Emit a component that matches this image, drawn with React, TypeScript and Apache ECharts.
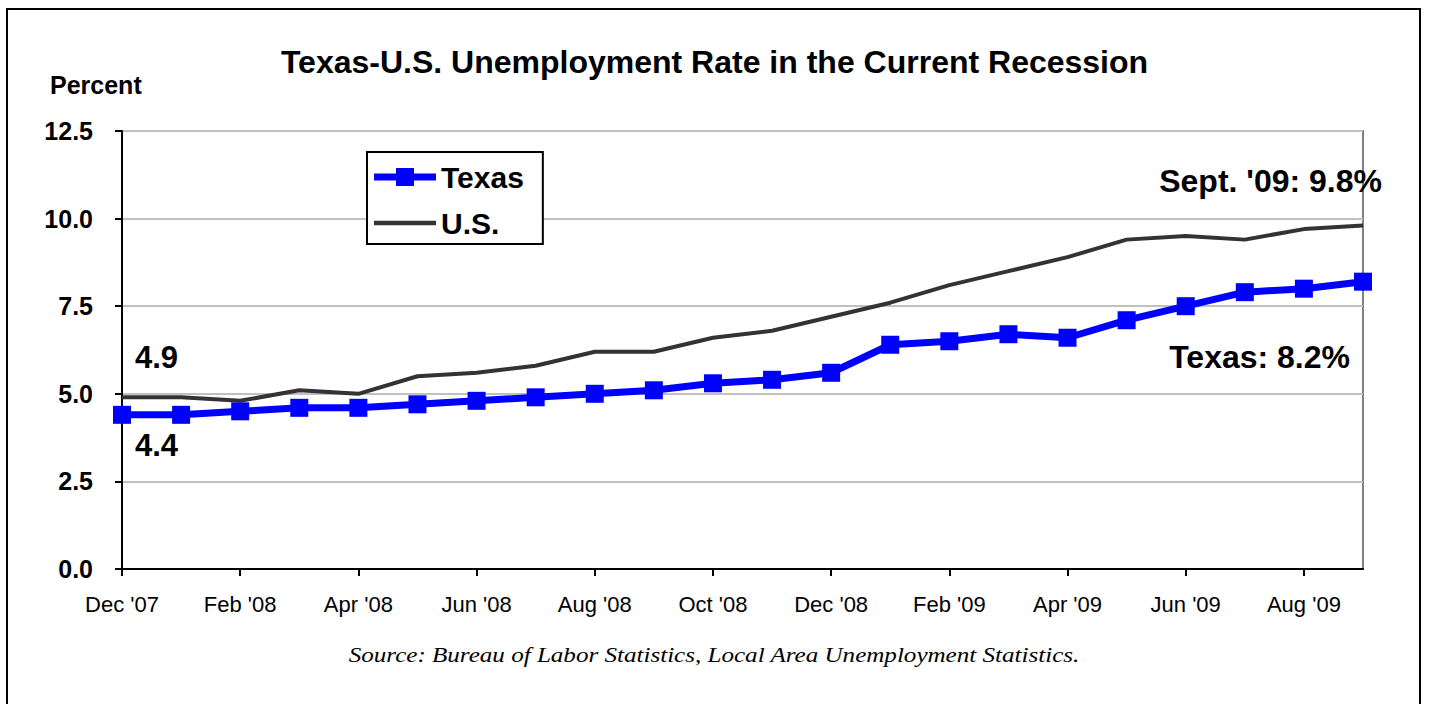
import React, { useEffect, useRef } from "react";
import * as echarts from "echarts";

const months = [
  "Dec '07", "Jan '08", "Feb '08", "Mar '08", "Apr '08", "May '08", "Jun '08", "Jul '08",
  "Aug '08", "Sep '08", "Oct '08", "Nov '08", "Dec '08", "Jan '09", "Feb '09", "Mar '09",
  "Apr '09", "May '09", "Jun '09", "Jul '09", "Aug '09", "Sep '09",
];
const texas = [4.4, 4.4, 4.5, 4.6, 4.6, 4.7, 4.8, 4.9, 5.0, 5.1, 5.3, 5.4, 5.6, 6.4, 6.5, 6.7, 6.6, 7.1, 7.5, 7.9, 8.0, 8.2];
const us = [4.9, 4.9, 4.8, 5.1, 5.0, 5.5, 5.6, 5.8, 6.2, 6.2, 6.6, 6.8, 7.2, 7.6, 8.1, 8.5, 8.9, 9.4, 9.5, 9.4, 9.7, 9.8];

const FONT = "'Liberation Sans', Arial, sans-serif";

export default function App() {
  const ref = useRef<HTMLDivElement>(null);
  useEffect(() => {
    if (!ref.current) return;
    const chart = echarts.init(ref.current, null, { renderer: "svg" });
    chart.setOption({
      animation: false,
      backgroundColor: "#ffffff",
      textStyle: { fontFamily: FONT },
      title: {
        text: "Texas-U.S. Unemployment Rate in the Current Recession",
        left: "center",
        top: 41,
        textStyle: { fontFamily: FONT, fontSize: 32, fontWeight: "bold", color: "#000" },
      },
      legend: {
        left: 367,
        top: 152,
        orient: "vertical",
        backgroundColor: "#fff",
        borderColor: "#000",
        borderWidth: 2,
        padding: [9, 19, 5, 7],
        itemWidth: 62,
        itemHeight: 18,
        itemGap: 14,
        itemStyle: { borderWidth: 0 },
        textStyle: { fontFamily: FONT, fontSize: 30, fontWeight: "bold", color: "#000", lineHeight: 32 },
        data: [
          { name: "Texas", icon: "path://M0,5.5h62v7h-62z M22,0h18v18h-18z" },
          { name: "U.S.", icon: "path://M0,0h62v4.5h-62z" },
        ],
      },
      grid: {
        left: 122,
        top: 131,
        right: 66,
        bottom: 135,
        show: true,
        borderColor: "#808080",
        borderWidth: 2,
        backgroundColor: "transparent",
      },
      xAxis: {
        type: "category",
        data: months,
        boundaryGap: false,
        axisLine: { lineStyle: { color: "#000", width: 2 } },
        axisTick: { interval: 1, length: 7, lineStyle: { color: "#000", width: 2 } },
        axisLabel: { interval: 1, margin: 24, fontFamily: FONT, fontSize: 22, color: "#000" },
        splitLine: { show: false },
      },
      yAxis: {
        type: "value",
        min: 0,
        max: 12.5,
        interval: 2.5,
        axisLine: { show: true, lineStyle: { color: "#000", width: 2 } },
        axisTick: { show: true, length: 7, lineStyle: { color: "#000", width: 2 } },
        axisLabel: {
          margin: 29,
          fontFamily: FONT,
          fontSize: 25,
          fontWeight: "bold",
          color: "#000",
          formatter: (v: number) => v.toFixed(1),
        },
        splitLine: { lineStyle: { color: "#c0c0c0", width: 2 } },
      },
      series: [
        {
          name: "U.S.",
          type: "line",
          data: us,
          showSymbol: false,
          symbol: "none",
          lineStyle: { color: "#333333", width: 4 },
          itemStyle: { color: "#333333" },
          z: 2,
        },
        {
          name: "Texas",
          type: "line",
          data: texas,
          symbol: "rect",
          symbolSize: 18,
          lineStyle: { color: "#0000ff", width: 7 },
          itemStyle: { color: "#0000ff" },
          z: 3,
        },
      ],
      graphic: [
        {
          type: "rect",
          shape: { x: 7, y: 9, width: 1413, height: 760 },
          style: { fill: "none", stroke: "#000", lineWidth: 2 },
          silent: true,
          z: -1,
        },
        {
          type: "text",
          x: 50,
          y: 85,
          style: { text: "Percent", font: `bold 25px ${FONT}`, fill: "#000", verticalAlign: "middle" },
        },
        {
          type: "text",
          x: 135,
          y: 357,
          style: { text: "4.9", font: `bold 31px ${FONT}`, fill: "#000", verticalAlign: "middle" },
        },
        {
          type: "text",
          x: 135,
          y: 445,
          style: { text: "4.4", font: `bold 31px ${FONT}`, fill: "#000", verticalAlign: "middle" },
        },
        {
          type: "text",
          x: 1382,
          y: 181,
          style: { text: "Sept. '09: 9.8%", font: `bold 32px ${FONT}`, fill: "#000", align: "right", verticalAlign: "middle" },
        },
        {
          type: "text",
          x: 1350,
          y: 357,
          style: { text: "Texas: 8.2%", font: `bold 32px ${FONT}`, fill: "#000", align: "right", verticalAlign: "middle" },
        },
        {
          type: "text",
          x: 714,
          y: 655,
          scaleX: 1.14,
          style: {
            text: "Source: Bureau of Labor Statistics, Local Area Unemployment Statistics.",
            font: `italic 22px 'Liberation Serif', 'DejaVu Serif', serif`,
            fill: "#000",
            align: "center",
            verticalAlign: "middle",
          },
        },
      ],
    });
    return () => chart.dispose();
  }, []);
  return (
    <div
      ref={ref}
      style={{ position: "fixed", left: 0, top: 0, width: 1429, height: 704, background: "#fff" }}
    />
  );
}
